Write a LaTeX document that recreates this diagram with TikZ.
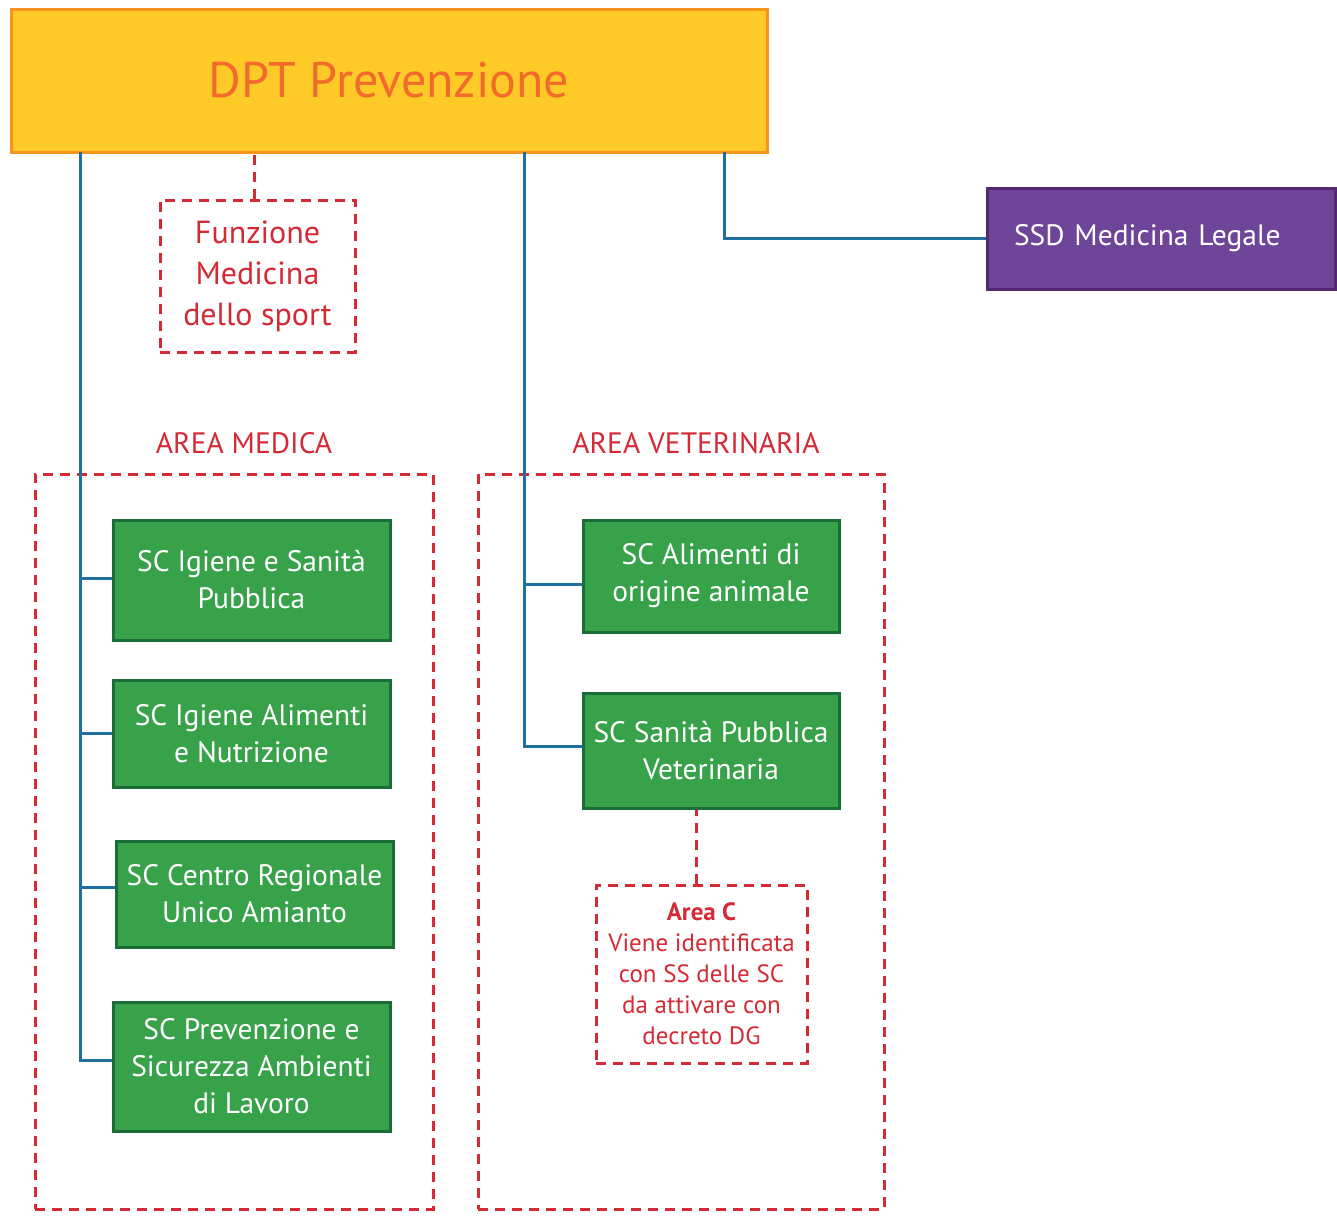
\documentclass[tikz,border=0pt]{standalone}
\usepackage{fontspec}
\setmainfont{PT Sans}
\definecolor{yel}{HTML}{FDCA28}
\definecolor{orb}{HTML}{F7941D}
\definecolor{ort}{HTML}{F26B2B}
\definecolor{bl}{HTML}{1F6FA0}
\definecolor{rd}{HTML}{D42A35}
\definecolor{gf}{HTML}{37A24A}
\definecolor{gb}{HTML}{1B6D38}
\definecolor{pf}{HTML}{6F4599}
\definecolor{pb}{HTML}{55286F}
\tikzset{
  gbox/.style={draw=gb, fill=gf, line width=3pt, text=white, align=center, inner sep=0pt,
    font=\fontsize{29.5}{37}\selectfont},
  rdash/.style={draw=rd, line width=3pt, dash pattern=on 10pt off 7pt},
  conn/.style={draw=bl, line width=3pt},
  redtxt/.style={text=rd, align=center, inner sep=0pt},
}
\begin{document}
\begin{tikzpicture}[x=1pt,y=-1pt]
\useasboundingbox (0,0) rectangle (1337,1216);
% top box
\node[draw=orb, fill=yel, line width=3pt, minimum width=756pt, minimum height=143pt, inner sep=0pt,
  text=ort, font=\fontsize{50}{60}\selectfont] (top) at (389,80.5) {DPT Prevenzione};
\coordinate (L) at (80,152);
\coordinate (M) at (524,152);
\coordinate (R) at (724,152);
% SSD
\node[draw=pb, fill=pf, line width=3pt, minimum height=101pt, text width=294pt, inner xsep=27pt,
  align=left, text=white, font=\fontsize{29.5}{36}\selectfont] (ssd) at (1161,238.5) {SSD Medicina Legale};
% Funzione
\node[rdash, minimum width=195pt, minimum height=152pt, text=rd, align=center, inner sep=0pt,
  font=\fontsize{32}{41}\selectfont] (fz) at (257.5,276) {Funzione\\Medicina\\dello sport};
% area labels
\node[redtxt, font=\fontsize{29.5}{34}\selectfont] (lam) at (244,443) {AREA MEDICA};
\node[redtxt, font=\fontsize{29.5}{34}\selectfont] (lav) at (696,443) {AREA VETERINARIA};
% area boxes
\node[rdash, minimum width=398pt, minimum height=735pt, inner sep=0pt] (am) at (234,841.5) {};
\node[rdash, minimum width=406pt, minimum height=735pt, inner sep=0pt] (av) at (681,841.5) {};
% green boxes
\node[gbox, minimum width=277pt, minimum height=120pt] (g1) at (251.5,580) {SC Igiene e Sanità\\Pubblica};
\node[gbox, minimum width=277pt, minimum height=107pt] (g2) at (251.5,733.5) {SC Igiene Alimenti\\e Nutrizione};
\node[gbox, minimum width=277pt, minimum height=106pt] (g3) at (254.5,894) {SC Centro Regionale\\Unico Amianto};
\node[gbox, minimum width=277pt, minimum height=129pt] (g4) at (251.5,1066.5) {SC Prevenzione e\\Sicurezza Ambienti\\di Lavoro};
\node[gbox, minimum width=256pt, minimum height=112pt] (v1) at (711,576) {SC Alimenti di\\origine animale};
\node[gbox, minimum width=256pt, minimum height=115pt] (v2) at (711,750.5) {SC Sanità Pubblica\\Veterinaria};
% Area C
\node[rdash, minimum width=211pt, minimum height=178pt, text=rd, align=center, inner sep=0pt,
  font=\fontsize{25}{31}\selectfont] (ac) at (701.5,974) {\textbf{Area C}\\Viene identificata\\con SS delle SC\\da attivare con\\decreto DG};
% connectors
\draw[conn] (L) |- ([yshift=6.5pt]g4.west);
\draw[conn] ([yshift=2pt]g1.west) -- ([yshift=2pt]g1.west -| L);
\draw[conn] (g2.west) -- (g2.west -| L);
\draw[conn] ([yshift=7pt]g3.west) -- ([yshift=7pt]g3.west -| L);
\draw[conn] (M) |- ([yshift=4.5pt]v2.west);
\draw[conn] ([yshift=-8pt]v1.west) -- ([yshift=-8pt]v1.west -| M);
\draw[conn] (R) |- (ssd.west);
\draw[rdash] ([xshift=-3.5pt]fz.north) -- ([xshift=-3.5pt]fz.north |- top.south);
\draw[rdash] ([xshift=-5.5pt]ac.north) -- ([xshift=-5.5pt]ac.north |- v2.south);
\end{tikzpicture}
\end{document}
